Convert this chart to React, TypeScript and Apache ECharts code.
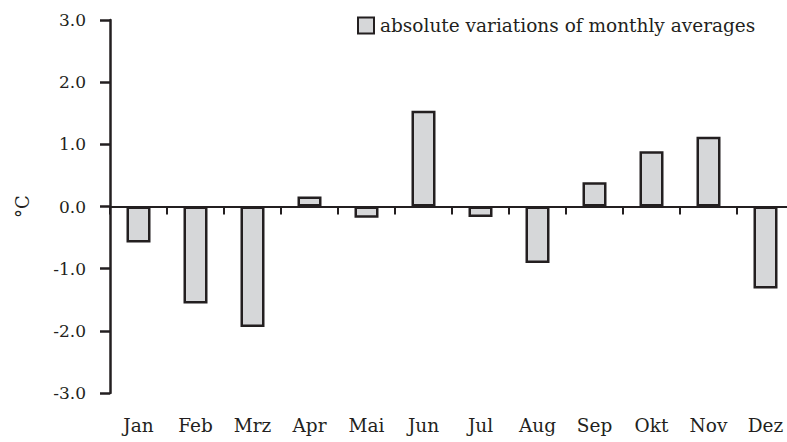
import React, { useEffect, useRef } from "react";
import * as echarts from "echarts";

const months = ["Jan", "Feb", "Mrz", "Apr", "Mai", "Jun", "Jul", "Aug", "Sep", "Okt", "Nov", "Dez"];
const variations = [-0.58, -1.56, -1.94, 0.16, -0.18, 1.54, -0.17, -0.91, 0.39, 0.89, 1.12, -1.32];
const seriesName = "absolute variations of monthly averages";
const yTicks = { min: -3, max: 3, interval: 1 };

const FONT = "DejaVu Serif";
const INK = "#231f20";

export default function App() {
  const ref = useRef<HTMLDivElement>(null);
  useEffect(() => {
    if (!ref.current) return;
    const chart = echarts.init(ref.current, null, { renderer: "svg" });
    chart.setOption({
      animation: false,
      backgroundColor: "#ffffff",
      textStyle: { fontFamily: FONT, color: INK },
      grid: { left: 110, right: 6, top: 20, bottom: 49, containLabel: false },
      legend: {
        data: [seriesName],
        left: 352,
        top: 11,
        itemWidth: 16,
        itemHeight: 16,
        icon: "rect",
        textStyle: { fontFamily: FONT, fontSize: 18.5, color: INK, padding: [0, 0, 0, 1] },
      },
      xAxis: [
        {
          type: "category",
          data: months,
          axisLine: { onZero: true, lineStyle: { color: INK, width: 2 } },
          axisTick: { show: true, length: 8, inside: false, lineStyle: { color: INK, width: 2 } },
          axisLabel: { show: false },
          splitLine: { show: false },
        },
        {
          type: "category",
          data: months,
          position: "bottom",
          axisLine: { show: false, onZero: false },
          axisTick: { show: false },
          axisLabel: { show: true, margin: 23, fontFamily: FONT, fontSize: 18.5, color: INK },
          splitLine: { show: false },
        },
      ],
      yAxis: {
        type: "value",
        min: yTicks.min,
        max: yTicks.max,
        interval: yTicks.interval,
        name: "°C",
        nameLocation: "middle",
        nameGap: 79,
        nameTextStyle: { fontFamily: FONT, fontSize: 18, color: INK },
        axisLine: { show: true, lineStyle: { color: INK, width: 2.5 } },
        axisTick: { show: true, length: 10, inside: false, lineStyle: { color: INK, width: 2.5 } },
        axisLabel: {
          margin: 24,
          fontFamily: FONT,
          fontSize: 17,
          color: INK,
          formatter: (v: number) => v.toFixed(1),
        },
        splitLine: { show: false },
      },
      series: [
        {
          name: seriesName,
          type: "bar",
          xAxisIndex: 0,
          data: variations,
          barWidth: 24,
          itemStyle: { color: "#d6d7d9", borderColor: INK, borderWidth: 2.5 },
        },
      ],
    });
    return () => chart.dispose();
  }, []);
  return (
    <div style={{ position: "fixed", left: 0, top: 0, width: 787, height: 442, overflow: "hidden", background: "#fff" }}>
      <div ref={ref} style={{ width: 800, height: 442 }} />
    </div>
  );
}
